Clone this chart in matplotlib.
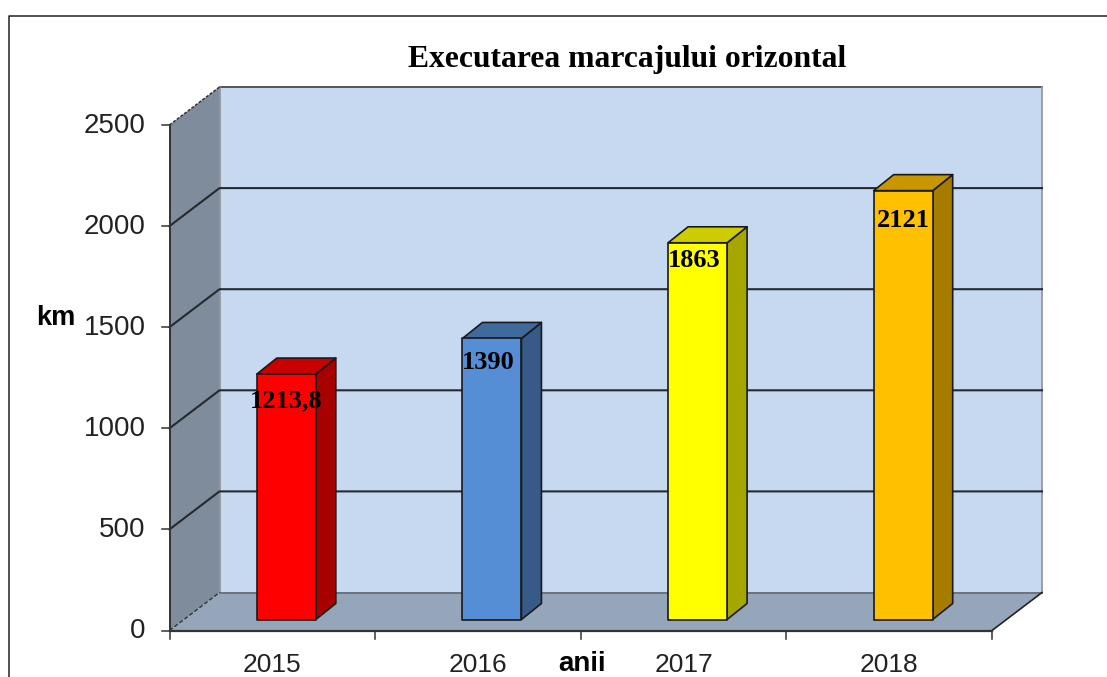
import matplotlib
matplotlib.use("Agg")
import matplotlib.pyplot as plt
from matplotlib.lines import Line2D
from matplotlib.patches import Polygon

categories = ["2015", "2016", "2017", "2018"]
values = [1213.8, 1390, 1863, 2121]
value_labels = ["1213,8", "1390", "1863", "2121"]
front_colors = ["#FF0000", "#558ED5", "#FFFF00", "#FFC000"]
top_colors = ["#C80000", "#3F6A9E", "#CCCC00", "#C89600"]
side_colors = ["#A80000", "#375A87", "#A6A600", "#A67C00"]
y_ticks = [0, 500, 1000, 1500, 2000, 2500]
label_shift_x = [0, -3.5, -3.5, 0]
label_shift_y = [27, 24, 18, 30]

W, H = 1107, 677
fig = plt.figure(figsize=(W / 100, H / 100), dpi=100, facecolor="white")

# frame: only left and top edges are visible
fig.add_artist(Line2D([9 / W, 9 / W, 1], [0, 1 - 15.5 / H, 1 - 15.5 / H], transform=fig.transFigure,
                      color="#222222", lw=1.1))

# axes = front plane of the 3-D box
L, R, T, B = 169.5, 992, 125, 630.5
ax = fig.add_axes([L / W, 1 - B / H, (R - L) / W, (B - T) / H])
ax.set_xlim(0, 4)
ax.set_ylim(0, 2500)
ax.axis("off")

sx = (R - L) / 4          # px per category
sy = (B - T) / 2500       # px per value
DX, DY = 50 / sx, 38 / sy  # wall depth in data units
bw = 59 / sx               # bar width
bdx, bdy = 20 / sx, 16 / sy  # bar depth
ox, oy = 14 / sx, 11 / sy    # bar offset into the box
EDGE = "#1a1a1a"


def poly(pts, fc, ec=EDGE, lw=1.2, z=1, **kw):
    ax.add_patch(Polygon(pts, closed=True, fc=fc, ec=ec, lw=lw, zorder=z, clip_on=False,
                         joinstyle="round", **kw))


# back wall, side wall, floor
poly([(DX, DY), (4 + DX, DY), (4 + DX, 2500 + DY), (DX, 2500 + DY)], "#C6D9F1", ec="none", z=1)
poly([(0, 0), (DX, DY), (DX, 2500 + DY), (0, 2500)], "#7F8C9C", ec="none", z=1)
poly([(0, 0), (4, 0), (4 + DX, DY), (DX, DY)], "#95A6BA", ec="none", z=1)

# wall outlines
ax.plot([DX, 4 + DX], [2500 + DY] * 2, color="#555555", lw=1.4, zorder=2, clip_on=False)
ax.plot([DX, DX], [DY, 2500 + DY], color="#8a8a8a", lw=1.1, zorder=2, clip_on=False)
ax.plot([4 + DX, 4 + DX], [DY, 2500 + DY], color="#999999", lw=1.3, zorder=2, clip_on=False)
ax.plot([DX, 4 + DX], [DY, DY], color="#6b7280", lw=1.4, zorder=2, clip_on=False)
ax.plot([0, DX], [2500, 2500 + DY], color="#333333", lw=1.1, ls=(0, (2, 1)), zorder=2, clip_on=False)
ax.plot([0, DX], [0, DY], color="#333333", lw=1.0, ls=(0, (3, 1.5)), zorder=2, clip_on=False)
ax.plot([4, 4 + DX], [0, DY], color="#222222", lw=1.2, zorder=2, clip_on=False)

# gridlines on back and side walls
for v in y_ticks[1:-1]:
    ax.plot([0, DX, 4 + DX], [v, v + DY, v + DY], color="#262a30", lw=1.5, zorder=2, clip_on=False)

# axes lines
ax.plot([0, 0], [0, 2500], color="#333333", lw=1.4, zorder=3, clip_on=False)
ax.plot([0, 4], [0, 0], color="#333333", lw=1.6, zorder=3, clip_on=False)

# ticks and tick labels
tl_y, tl_x = 8 / sy, 8 / sx
for v in y_ticks:
    ax.plot([-tl_x, 0], [v, v], color="#333333", lw=1.1, zorder=3, clip_on=False)
    ax.text(-24 / sx, v - 1 / sy, str(v), ha="right", va="center", fontsize=20, color="#222222",
            family="Liberation Sans")
for i in range(5):
    ax.plot([i, i], [0, -tl_y], color="#333333", lw=1.1, zorder=3, clip_on=False)
for i, c in enumerate(categories):
    ax.text(i + 0.5, -34 / sy, c, ha="center", va="center", fontsize=19, color="#222222",
            family="Liberation Sans")

# bars
for i, (v, lab) in enumerate(zip(values, value_labels)):
    x0 = i + 0.5 - bw / 2 + ox
    x1 = x0 + bw
    y0, y1 = oy, oy + v
    poly([(x1, y0), (x1 + bdx, y0 + bdy), (x1 + bdx, y1 + bdy), (x1, y1)], side_colors[i], z=4)
    poly([(x0, y1), (x1, y1), (x1 + bdx, y1 + bdy), (x0 + bdx, y1 + bdy)], top_colors[i], z=4)
    poly([(x0, y0), (x1, y0), (x1, y1), (x0, y1)], front_colors[i], z=5)
    ax.text((x0 + x1) / 2 + label_shift_x[i] / sx, y1 - label_shift_y[i] / sy, lab, ha="center", va="center",
            fontsize=19, fontweight="bold", family="Liberation Serif", color="black", zorder=6, clip_on=False)

# titles
fig.text(627 / W, 1 - 59 / H, "Executarea marcajului orizontal", ha="center", va="center",
         fontsize=22.8, fontweight="bold", family="Liberation Serif", color="black")
fig.text(56 / W, 1 - 318 / H, "km", ha="center", va="center", fontsize=19.5, fontweight="bold",
         family="Liberation Sans", color="black")
fig.text(582 / W, 1 - 664 / H, "anii", ha="center", va="center", fontsize=20, fontweight="bold",
         family="Liberation Sans", color="black")

fig.savefig("out.png", dpi=100)
